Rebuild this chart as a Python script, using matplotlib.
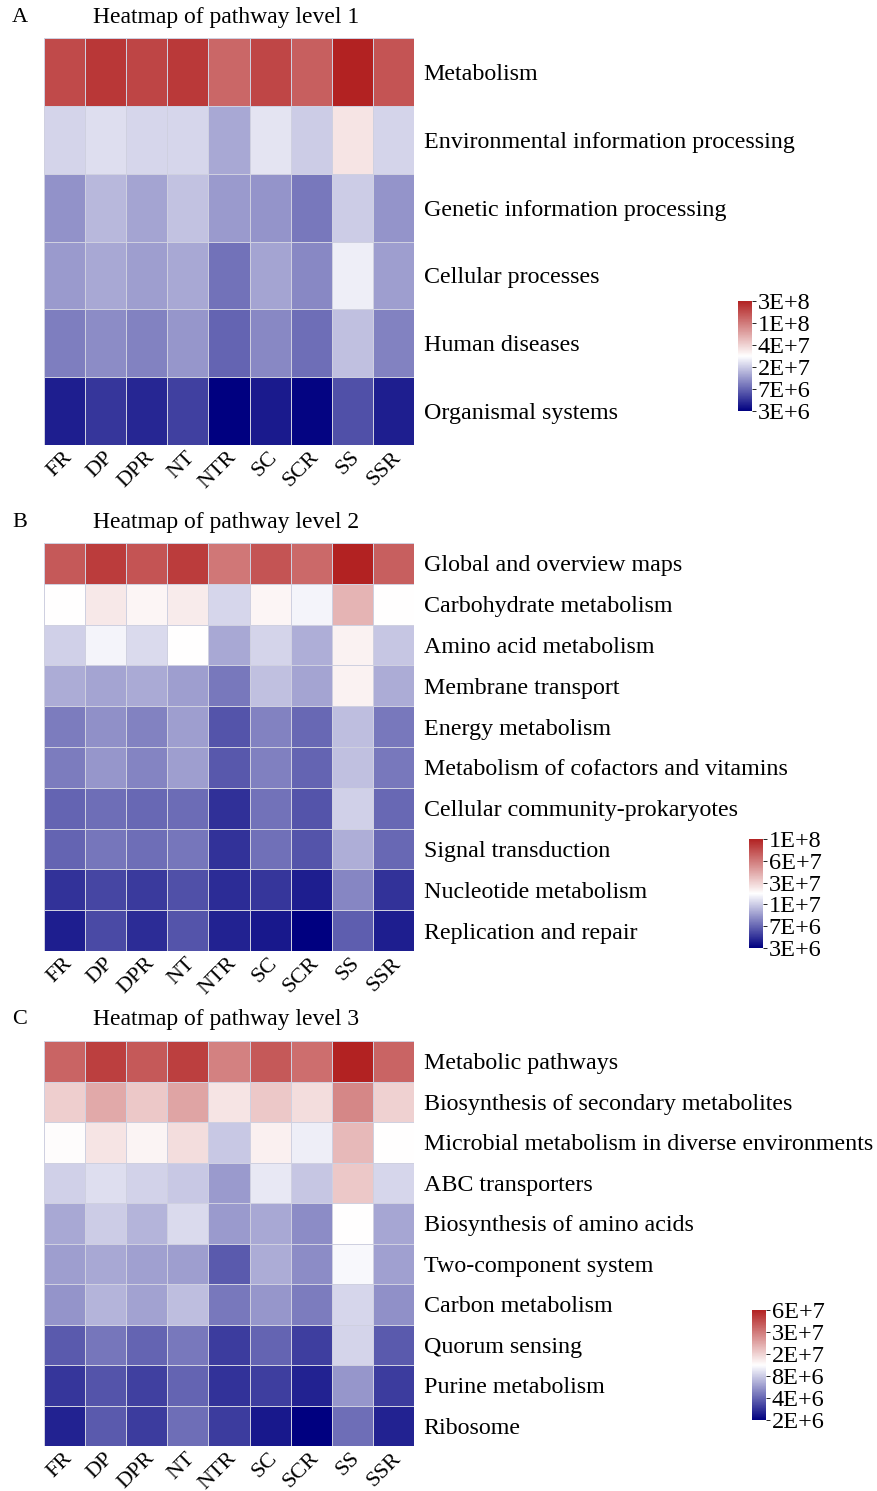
import numpy as np
import matplotlib
matplotlib.use("Agg")
import matplotlib.pyplot as plt
from matplotlib.colors import LinearSegmentedColormap, Normalize

plt.rcParams['font.family'] = ['Liberation Serif', 'DejaVu Serif']

samples = ["FR", "DP", "DPR", "NT", "NTR", "SC", "SCR", "SS", "SSR"]

# level 1 pathways, values are log10 of abundance
level1_names = ["Metabolism", "Environmental information processing",
                "Genetic information processing", "Cellular processes",
                "Human diseases", "Organismal systems"]
level1_vals = [
    [8.29, 8.38, 8.32, 8.37, 8.16, 8.31, 8.20, 8.47, 8.25],
    [7.31, 7.35, 7.32, 7.32, 7.14, 7.37, 7.28, 7.60, 7.31],
    [7.05, 7.20, 7.12, 7.24, 7.08, 7.06, 6.95, 7.28, 7.06],
    [7.08, 7.14, 7.10, 7.14, 6.93, 7.12, 7.01, 7.41, 7.10],
    [6.97, 7.03, 6.99, 7.07, 6.87, 7.01, 6.91, 7.23, 6.99],
    [6.60, 6.69, 6.63, 6.73, 6.48, 6.58, 6.50, 6.79, 6.60],
]
level1_ticks = ["3E+6", "7E+6", "2E+7", "4E+7", "1E+8", "3E+8"]
level1_range = (6.477, 8.477)

level2_names = ["Global and overview maps", "Carbohydrate metabolism",
                "Amino acid metabolism", "Membrane transport", "Energy metabolism",
                "Metabolism of cofactors and vitamins",
                "Cellular community-prokaryotes", "Signal transduction",
                "Nucleotide metabolism", "Replication and repair"]
level2_vals = [
    [7.807, 7.909, 7.825, 7.909, 7.703, 7.825, 7.756, 8.000, 7.787],
    [7.239, 7.318, 7.269, 7.304, 7.117, 7.274, 7.208, 7.497, 7.239],
    [7.098, 7.208, 7.127, 7.239, 6.980, 7.111, 7.000, 7.284, 7.068],
    [6.990, 6.970, 6.984, 6.949, 6.835, 7.050, 6.970, 7.284, 6.990],
    [6.850, 6.910, 6.865, 6.949, 6.731, 6.865, 6.791, 7.045, 6.835],
    [6.850, 6.925, 6.873, 6.949, 6.740, 6.858, 6.776, 7.050, 6.835],
    [6.776, 6.806, 6.791, 6.800, 6.620, 6.820, 6.731, 7.098, 6.791],
    [6.776, 6.829, 6.806, 6.829, 6.626, 6.812, 6.731, 7.000, 6.791],
    [6.626, 6.686, 6.651, 6.716, 6.611, 6.641, 6.567, 6.881, 6.626],
    [6.567, 6.701, 6.611, 6.731, 6.582, 6.552, 6.477, 6.760, 6.567],
]
level2_ticks = ["3E+6", "7E+6", "1E+7", "3E+7", "6E+7", "1E+8"]
level2_range = (6.477, 8.0)

level3_names = ["Metabolic pathways", "Biosynthesis of secondary metabolites",
                "Microbial metabolism in diverse environments", "ABC transporters",
                "Biosynthesis of amino acids", "Two-component system",
                "Carbon metabolism", "Quorum sensing", "Purine metabolism", "Ribosome"]
level3_vals = [
    [7.556, 7.675, 7.590, 7.675, 7.457, 7.590, 7.524, 7.778, 7.556],
    [7.206, 7.323, 7.223, 7.341, 7.130, 7.223, 7.150, 7.438, 7.190],
    [7.050, 7.130, 7.076, 7.150, 6.880, 7.090, 6.991, 7.273, 7.040],
    [6.904, 6.943, 6.910, 6.880, 6.750, 6.973, 6.874, 7.223, 6.921],
    [6.788, 6.892, 6.822, 6.932, 6.750, 6.788, 6.707, 7.040, 6.780],
    [6.759, 6.788, 6.765, 6.759, 6.561, 6.799, 6.707, 7.019, 6.765],
    [6.729, 6.822, 6.771, 6.852, 6.648, 6.735, 6.663, 6.921, 6.720],
    [6.561, 6.642, 6.590, 6.648, 6.475, 6.590, 6.481, 6.915, 6.561],
    [6.461, 6.548, 6.489, 6.590, 6.446, 6.481, 6.403, 6.735, 6.475],
    [6.403, 6.561, 6.475, 6.620, 6.475, 6.373, 6.301, 6.620, 6.403],
]
level3_ticks = ["2E+6", "4E+6", "8E+6", "2E+7", "3E+7", "6E+7"]
level3_range = (6.301, 7.778)

cmap = LinearSegmentedColormap.from_list("nwf", ["#000080", "#ffffff", "#b22222"])

W, H = 878, 1491
fig = plt.figure(figsize=(W / 100, H / 100), dpi=100)


def px_axes(x0, y0, x1, y1):
    # pixel box (top-left origin) -> figure axes
    return fig.add_axes([x0 / W, 1 - y1 / H, (x1 - x0) / W, (y1 - y0) / H])


def draw_panel(letter, title, names, vals, ticks, vrange, box, cbox):
    ax = px_axes(*box)
    data = np.array(vals)
    norm = Normalize(vmin=vrange[0], vmax=vrange[1])
    mesh = ax.pcolormesh(data, cmap=cmap, norm=norm, edgecolors="#cfd0e0", linewidth=0.6)
    ax.set_xlim(0, data.shape[1])
    ax.set_ylim(data.shape[0], 0)
    ax.set_xticks(np.arange(data.shape[1]) + 0.45)
    ax.set_xticklabels(samples, rotation=45, ha="right", va="top",
                       rotation_mode="anchor", fontsize=16)
    ax.set_yticks(np.arange(data.shape[0]) + 0.5)
    ax.set_yticklabels(names, fontsize=17.3)
    ax.yaxis.tick_right()
    ax.tick_params(axis="y", length=0, pad=7)
    ax.tick_params(axis="x", length=0, pad=2)
    for s in ax.spines.values():
        s.set_visible(False)

    y0 = box[1]
    fig.text(12 / W, 1 - (y0 - 21) / H, letter, fontsize=16, va="center")
    fig.text(93 / W, 1 - (y0 - 21) / H, title, fontsize=17, va="center")

    cax = px_axes(*cbox)
    cb = fig.colorbar(mesh, cax=cax)
    cb.outline.set_visible(False)
    cb.set_ticks(np.linspace(vrange[0], vrange[1], len(ticks)))
    cb.set_ticklabels(ticks)
    cb.ax.tick_params(labelsize=17.5, length=3, width=0.6, pad=1)


draw_panel("A", "Heatmap of pathway level 1", level1_names, level1_vals,
           level1_ticks, level1_range, (44, 38, 414, 445), (738, 301, 752, 411))
draw_panel("B", "Heatmap of pathway level 2", level2_names, level2_vals,
           level2_ticks, level2_range, (44, 543, 414, 951), (749, 839, 763, 948))
draw_panel("C", "Heatmap of pathway level 3", level3_names, level3_vals,
           level3_ticks, level3_range, (44, 1041, 414, 1446), (752, 1310, 766, 1420))

fig.savefig("out.png", dpi=100, facecolor="white")
